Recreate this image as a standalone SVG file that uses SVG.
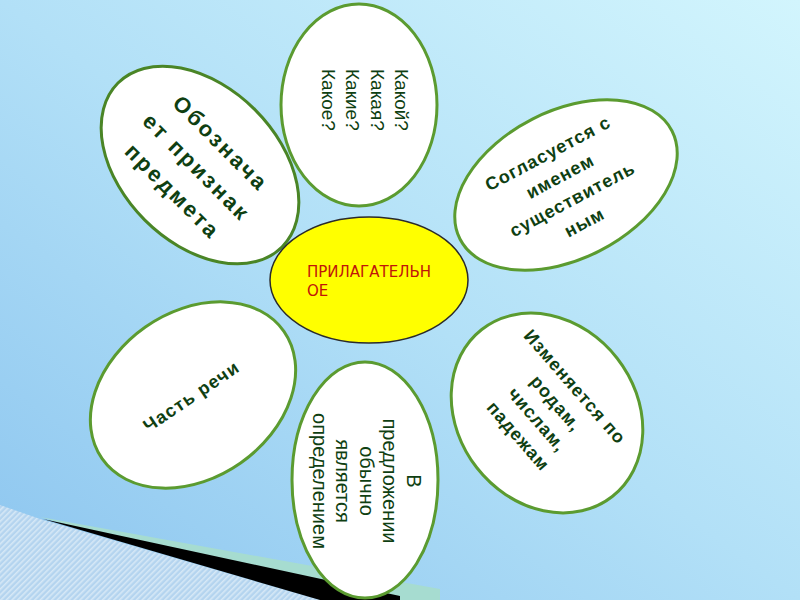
<svg xmlns="http://www.w3.org/2000/svg" width="800" height="600" viewBox="0 0 800 600">
<defs>
<linearGradient id="bg" x1="0" y1="1" x2="1" y2="0">
<stop offset="0" stop-color="#8cc5ef"/>
<stop offset="0.5" stop-color="#b2e0f7"/>
<stop offset="1" stop-color="#d2f5fd"/>
</linearGradient>
<pattern id="stripes" width="4" height="4" patternUnits="userSpaceOnUse" patternTransform="rotate(45)">
<rect width="4" height="4" fill="#b4d4ef"/>
<rect width="1.6" height="4" fill="#d6e8f6"/>
</pattern>
<style>
.petal{fill:#ffffff;stroke:#5b9b30;stroke-width:3}
.t{fill:#0f3f12;font-family:"Liberation Sans",Arial,sans-serif}
.b{font-weight:bold}
</style>
</defs>
<rect width="800" height="600" fill="url(#bg)"/>
<g id="corner">
<polygon points="40,517 440,589 440,600 330,600" fill="#a6dcd0"/>
<polygon points="0,505 43,520 320,600 0,600" fill="url(#stripes)"/>
<polygon points="43,519 400,596 400,600 320,600" fill="#000"/>
</g>
<g id="petal-top">
<ellipse class="petal" cx="359" cy="105" rx="78" ry="101"/>
<text class="t" font-size="19" transform="translate(395,69) rotate(90)"><tspan x="0" y="0">Какой?</tspan><tspan x="0" dy="24.5">Какая?</tspan><tspan x="0" dy="24.5">Какие?</tspan><tspan x="0" dy="24.5">Какое?</tspan></text>
</g>
<g id="petal-topleft">
<ellipse class="petal" style="stroke:#4a8526" cx="200" cy="165" rx="116" ry="78" transform="rotate(45 200 165)"/>
<text class="t b" font-size="22" letter-spacing="2.5" text-anchor="middle" transform="translate(197,167) rotate(45)"><tspan x="0" y="-26">Обознача</tspan><tspan x="0" y="8">ет признак</tspan><tspan x="0" y="42">предмета</tspan></text>
</g>
<g id="petal-topright">
<ellipse class="petal" cx="566" cy="185" rx="119" ry="74" transform="rotate(-27 566 185)"/>
<text class="t b" font-size="18" letter-spacing="1" text-anchor="middle" transform="translate(566,187.5) rotate(-28)"><tspan x="0" y="-32.5">Согласуется с</tspan><tspan x="0" y="-6.5">именем</tspan><tspan x="0" y="19.5">существитель</tspan><tspan x="0" y="45.5">ным</tspan></text>
</g>
<g id="petal-bottomleft">
<ellipse class="petal" cx="193" cy="395" rx="111" ry="83" transform="rotate(-35 193 395)"/>
<text class="t b" font-size="18" letter-spacing="1.2" text-anchor="middle" transform="translate(191.5,396.5) rotate(-34)"><tspan x="0" y="6">Часть речи</tspan></text>
</g>
<g id="petal-bottom">
<ellipse class="petal" cx="365" cy="480" rx="73" ry="118"/>
<text class="t" font-size="20" text-anchor="middle" transform="translate(407,481) rotate(90)"><tspan x="0" y="0">В</tspan><tspan x="0" dy="24">предложении</tspan><tspan x="0" dy="23.5">обычно</tspan><tspan x="0" dy="23.5">является</tspan><tspan x="0" dy="23.5">определением</tspan></text>
</g>
<g id="petal-bottomright">
<ellipse class="petal" cx="547" cy="413" rx="106" ry="89" transform="rotate(52 547 413)"/>
<text class="t b" font-size="18" letter-spacing="1" text-anchor="middle" transform="translate(546.5,411.6) rotate(49)"><tspan x="0" y="-31.5">Изменяется по</tspan><tspan x="0" y="-6.5">родам,</tspan><tspan x="0" y="18.5">числам,</tspan><tspan x="0" y="43.5">падежам</tspan></text>
</g>
<g id="center">
<ellipse cx="369" cy="280" rx="99" ry="63" fill="#ffff00" stroke="#2a2a2a" stroke-width="1.5"/>
<text font-family="'DejaVu Sans',sans-serif" font-size="15" fill="#c0140a"><tspan x="307" y="277">ПРИЛАГАТЕЛЬН</tspan><tspan x="307" y="296">ОЕ</tspan></text>
</g>
<g id="connectors"/>
</svg>
